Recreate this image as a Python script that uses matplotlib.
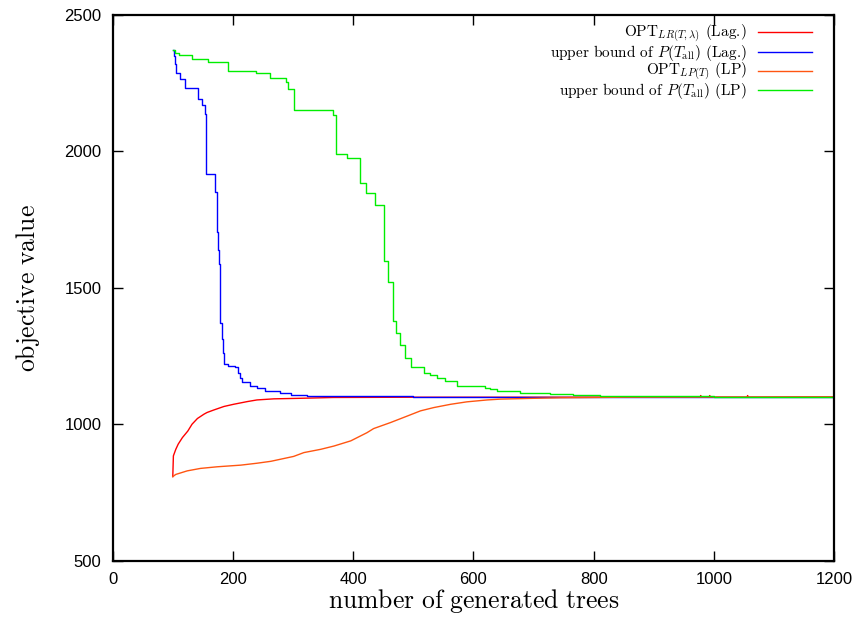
import numpy as np
import matplotlib.pyplot as plt

plt.rcParams["mathtext.fontset"] = "cm"

# OPT_LR(T,lambda) (Lag.) -- smooth curve
lag_opt_x = [100, 101, 105, 109, 116, 125, 132, 141, 152, 157, 168, 185, 201, 224, 240,
             268, 312, 367, 500, 977, 978, 979, 992, 993, 994, 1055, 1056, 1057, 1200]
lag_opt_y = [808, 884, 908, 927, 951, 975, 1000, 1021, 1037, 1043, 1052, 1065, 1073, 1083,
             1089, 1093, 1095, 1098, 1099, 1099, 1105, 1099, 1099, 1105, 1099, 1099, 1105,
             1099, 1100]

# upper bound of P(T_all) (Lag.) -- step curve
lag_ub_x = [100, 102, 104, 106, 112, 120, 142, 148, 153, 156, 171, 174, 175, 176, 177, 178,
            179, 182, 183, 186, 191, 204, 208, 211, 215, 224, 228, 240, 254, 279, 296, 324,
            367, 500, 1200]
lag_ub_y = [2370, 2350, 2320, 2287, 2264, 2233, 2193, 2170, 2136, 1916, 1852, 1705, 1702,
            1640, 1586, 1480, 1372, 1311, 1260, 1220, 1214, 1208, 1189, 1171, 1156, 1153,
            1140, 1131, 1122, 1114, 1107, 1104, 1102, 1100, 1100]

# OPT_LP(T) (LP) -- smooth curve
lp_opt_x = [100, 105, 124, 146, 174, 213, 240, 263, 301, 318, 346, 368, 396, 423, 434, 462,
            490, 512, 534, 562, 589, 623, 645, 700, 745, 850, 1200]
lp_opt_y = [808, 816, 829, 838, 844, 850, 857, 864, 882, 896, 908, 920, 939, 969, 984, 1006,
            1030, 1049, 1061, 1073, 1082, 1089, 1092, 1095, 1097, 1099, 1100]

# upper bound of P(T_all) (LP) -- step curve
lp_ub_x = [100, 103, 111, 132, 158, 192, 239, 261, 288, 291, 302, 366, 371, 390, 412, 421,
           437, 451, 458, 466, 471, 478, 486, 496, 518, 527, 540, 553, 572, 619, 628, 639,
           678, 728, 766, 811, 900, 1000, 1200]
lp_ub_y = [2370, 2362, 2354, 2340, 2327, 2294, 2286, 2270, 2255, 2230, 2150, 2132, 1989,
           1974, 1883, 1849, 1802, 1598, 1523, 1378, 1333, 1291, 1244, 1208, 1186, 1180,
           1171, 1159, 1140, 1134, 1128, 1120, 1116, 1112, 1107, 1104, 1102, 1100, 1100]

labels = [r"OPT$_{LR(T,\lambda)}$ (Lag.)",
          r"upper bound of $P(T_{\mathrm{all}})$ (Lag.)",
          r"OPT$_{LP(T)}$ (LP)",
          r"upper bound of $P(T_{\mathrm{all}})$ (LP)"]
colors = ["#ff0000", "#0000ff", "#ff5511", "#00ee00"]
# key row positions (axes fraction)
key_rows = [0.9685, 0.9316, 0.8979, 0.8618]

fig = plt.figure(figsize=(8.6, 6.25), dpi=100)
ax = fig.add_axes([0.131, 0.103, 0.839, 0.873])

lw = 1.0
ax.plot(lag_opt_x, lag_opt_y, color=colors[0], lw=lw)
ax.plot(lag_ub_x, lag_ub_y, color=colors[1], lw=lw, drawstyle="steps-post")
ax.plot(lp_opt_x, lp_opt_y, color=colors[2], lw=lw)
ax.plot(lp_ub_x, lp_ub_y, color=colors[3], lw=lw, drawstyle="steps-post")

# gnuplot-style key: right-aligned text, sample line after it
for lab, c, yl in zip(labels, colors, key_rows):
    ax.plot([0.894, 0.969], [yl, yl], color=c, lw=lw, transform=ax.transAxes)
    ax.text(0.879, yl - 0.0086, lab, ha="right", va="baseline", fontsize=11,
            family="cmr10", transform=ax.transAxes)

ax.set_xlim(0, 1200)
ax.set_ylim(500, 2500)
ax.set_xticks(np.arange(0, 1201, 200))
ax.set_yticks(np.arange(500, 2501, 500))
ax.tick_params(direction="in", length=7, width=1, top=True, right=True,
               labelsize=12, pad=8)
for lab in ax.get_xticklabels() + ax.get_yticklabels():
    lab.set_family("Liberation Sans")
for s in ax.spines.values():
    s.set_linewidth(1.6)

ax.set_xlabel(r"$\mathrm{number\ of\ generated\ trees}$", fontsize=18.5, labelpad=0)
ax.set_ylabel(r"$\mathrm{objective\ value}$", fontsize=18.5, labelpad=16)

fig.savefig("out.png", dpi=100)
